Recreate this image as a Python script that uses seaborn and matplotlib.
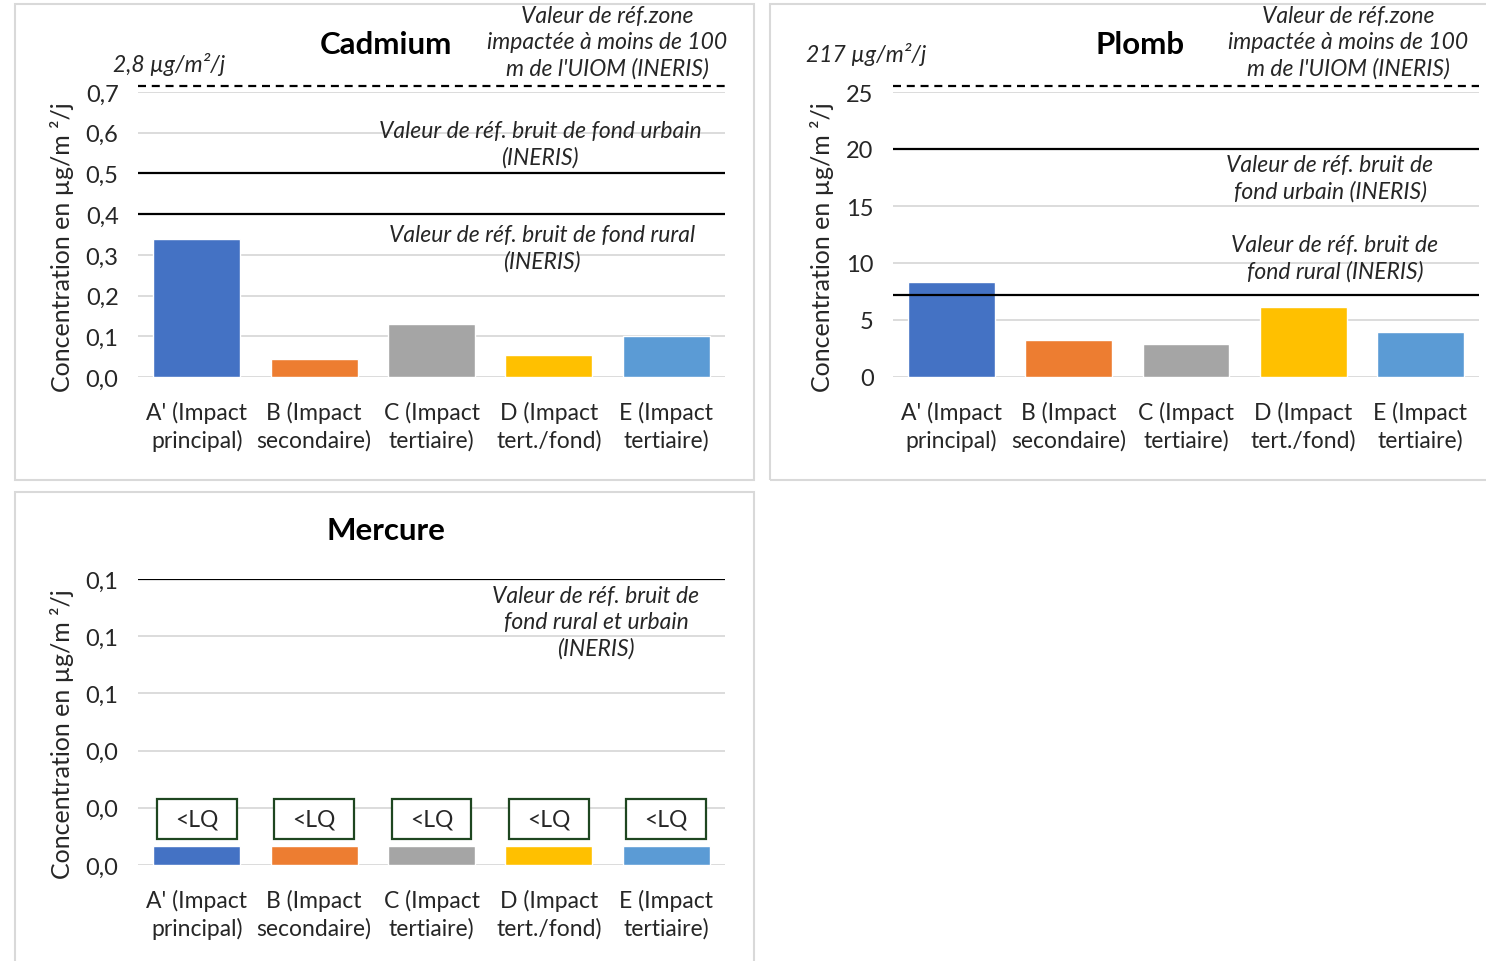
import matplotlib
matplotlib.use("Agg")
import matplotlib.pyplot as plt
from matplotlib.patches import Rectangle
from matplotlib.ticker import FuncFormatter, MultipleLocator
import numpy as np
import pandas as pd
import seaborn as sns

# ---- data -------------------------------------------------------------
categories = [
    "A' (Impact\nprincipal)",
    "B (Impact\nsecondaire)",
    "C (Impact\ntertiaire)",
    "D (Impact\ntert./fond)",
    "E (Impact\ntertiaire)",
]
colors = ["#4472C4", "#ED7D31", "#A5A5A5", "#FFC000", "#5B9BD5"]

cadmium = [0.34, 0.045, 0.13, 0.055, 0.10]
plomb = [8.3, 3.25, 2.9, 6.1, 3.95]
mercure = [0.0065, 0.0065, 0.0065, 0.0065, 0.0065]   # all below LQ
mercure_lq_label = "<LQ"
mercure_lq_level = 0.016

# reference values (INERIS)
cd_ref_zone, cd_ref_urbain, cd_ref_rural = 2.8, 0.5, 0.4
pb_ref_zone, pb_ref_urbain, pb_ref_rural = 217, 20, 7.2
hg_ref_fond = 0.1

cd_ylim, cd_step = 0.7, 0.1
pb_ylim, pb_step = 25, 5
hg_ylim, hg_step = 0.1, 0.02

ylabel = "Concentration en µg/m ²/j"
zone_label = "Valeur de réf.zone\nimpactée à moins de 100\nm de l'UIOM (INERIS)"

# ---- style ------------------------------------------------------------
sns.set_theme(style="white")
plt.rcParams["font.family"] = ["Lato", "DejaVu Sans"]

W, H = 1486, 962
fig = plt.figure(figsize=(W / 100, H / 100), dpi=100)
fig.patch.set_facecolor("white")

GRID = "#D9D9D9"
TXT = "#262626"
FS_TICK = 17
FS_CAT = 16.5
FS_YLAB = 18
FS_NOTE = 16.5
FS_TITLE = 22.5


def px_axes(left, top, right, bottom):
    return fig.add_axes([left / W, 1 - bottom / H, (right - left) / W, (bottom - top) / H])


def ftext(x, y, s, **kw):
    fig.text(x / W, 1 - y / H, s, **kw)


def comma(v, decimals):
    return f"{v:.{decimals}f}".replace(".", ",")


def panel_box(left, top, right, bottom):
    fig.patches.append(Rectangle((left / W, 1 - bottom / H), (right - left) / W,
                                 (bottom - top) / H, transform=fig.transFigure,
                                 fill=False, edgecolor=GRID, lw=1.5, zorder=0))


def bars(ax, values, ymax, step, decimals):
    df = pd.DataFrame({"cat": categories, "val": values})
    sns.barplot(data=df, x="cat", y="val", hue="cat", palette=colors,
                width=0.74, saturation=1, legend=False, ax=ax, zorder=3)
    ax.set_xlim(-0.5, len(categories) - 0.5)
    ax.set_ylim(0, ymax)
    ax.yaxis.set_major_locator(MultipleLocator(step))
    ax.yaxis.set_major_formatter(FuncFormatter(lambda v, p: comma(v, decimals)))
    ax.grid(axis="y", color=GRID, lw=1.3)
    ax.grid(axis="x", visible=False)
    ax.set_axisbelow(True)
    for s in ax.spines.values():
        s.set_visible(False)
    ax.set_xlabel("")
    ax.set_ylabel("")
    ax.tick_params(axis="y", length=0, pad=14, labelsize=FS_TICK, labelcolor=TXT)
    ax.tick_params(axis="x", length=0, pad=17, labelsize=FS_CAT, labelcolor=TXT)
    for lab in ax.get_xticklabels():
        lab.set_linespacing(1.35)


def ref_line(ax, value):
    ax.axhline(value, color="black", lw=1.6, zorder=4)


def offscale_line(ax):
    ax.plot([0, 1], [1.022, 1.022], transform=ax.transAxes, color="black",
            lw=1.6, ls=(0, (3.6, 2.6)), clip_on=False, zorder=4)


note_kw = dict(fontsize=FS_NOTE, style="italic", color=TXT, ha="center",
               va="center", linespacing=1.3)

# ---- Cadmium ----------------------------------------------------------
panel_box(15, 5, 754, 481)
ax1 = px_axes(138, 93, 725, 378)
bars(ax1, cadmium, cd_ylim, cd_step, 1)
ref_line(ax1, cd_ref_urbain)
ref_line(ax1, cd_ref_rural)
offscale_line(ax1)
ftext(386, 45, "Cadmium", fontsize=FS_TITLE, fontweight="bold", color="black",
      ha="center", va="center")
ftext(113, 65, f"{comma(cd_ref_zone, 1)} µg/m²/j", fontsize=FS_NOTE, style="italic",
      color=TXT, ha="left", va="center")
ftext(607, 43, zone_label, **note_kw)
ftext(540, 145, "Valeur de réf. bruit de fond urbain\n(INERIS)", **note_kw)
ftext(542, 249, "Valeur de réf. bruit de fond rural\n(INERIS)", **note_kw)
ftext(62, 247, ylabel, fontsize=FS_YLAB, color=TXT, rotation=90,
      ha="center", va="center")

# ---- Plomb ------------------------------------------------------------
panel_box(770, 5, 1492, 481)
ax2 = px_axes(893, 93, 1479, 378)
bars(ax2, plomb, pb_ylim, pb_step, 0)
ref_line(ax2, pb_ref_urbain)
ref_line(ax2, pb_ref_rural)
offscale_line(ax2)
ftext(1140, 45, "Plomb", fontsize=FS_TITLE, fontweight="bold", color="black",
      ha="center", va="center")
ftext(806, 55, f"{pb_ref_zone} µg/m²/j", fontsize=FS_NOTE, style="italic",
      color=TXT, ha="left", va="center")
ftext(1348, 43, zone_label, **note_kw)
ftext(1330, 179, "Valeur de réf. bruit de\nfond urbain (INERIS)", **note_kw)
ftext(1335, 259, "Valeur de réf. bruit de\nfond rural (INERIS)", **note_kw)
ftext(822, 247, ylabel, fontsize=FS_YLAB, color=TXT, rotation=90,
      ha="center", va="center")

# ---- Mercure ----------------------------------------------------------
panel_box(15, 493, 754, 975)
ax3 = px_axes(138, 580, 725, 866)
bars(ax3, mercure, hg_ylim, hg_step, 1)
ref_line(ax3, hg_ref_fond)
box_w, box_h = 0.68, 0.014
for i in range(len(categories)):
    ax3.add_patch(Rectangle((i - box_w / 2, mercure_lq_level - box_h / 2), box_w, box_h,
                            fc="white", ec="#1E4620", lw=1.6, zorder=5))
    ax3.text(i, mercure_lq_level, mercure_lq_label, ha="center", va="center",
             fontsize=FS_CAT, color=TXT, zorder=6)
ftext(386, 531, "Mercure", fontsize=FS_TITLE, fontweight="bold", color="black",
      ha="center", va="center")
ftext(596, 623, "Valeur de réf. bruit de\nfond rural et urbain\n(INERIS)", **note_kw)
ftext(62, 734, ylabel, fontsize=FS_YLAB, color=TXT, rotation=90,
      ha="center", va="center")

fig.savefig("out.png", dpi=100, facecolor="white")
